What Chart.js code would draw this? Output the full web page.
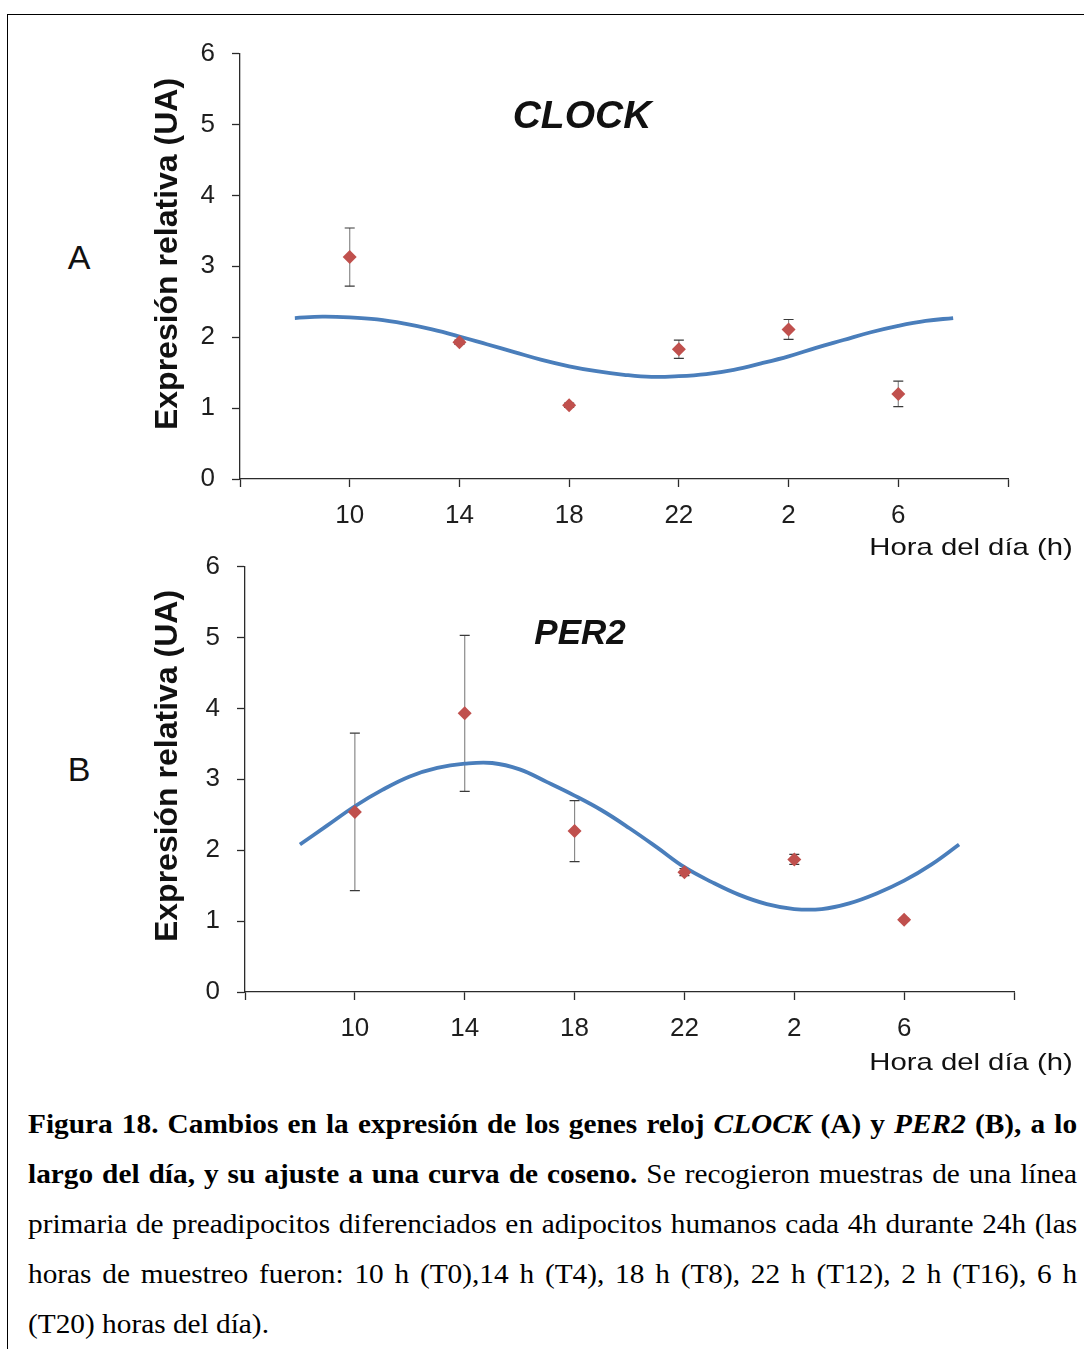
<!DOCTYPE html>
<html lang="es">
<head>
<meta charset="utf-8">
<title>Figura 18</title>
<script src="https://cdn.jsdelivr.net/npm/chart.js@4/dist/chart.umd.min.js"></script>
<style>
    html, body { margin: 0; padding: 0; background: #fff; overflow: hidden; }
    #pagina { position: relative; width: 1084px; height: 1349px; overflow: hidden; font-family: 'Liberation Sans', Arial, sans-serif; color: #111; }
    #marco { position: absolute; left: 7px; top: 14px; width: 1200px; height: 1400px; border-left: 1.5px solid #000; border-top: 1.5px solid #000; }
    canvas { position: absolute; }
    .panel { position: absolute; font-size: 34px; line-height: 34px; transform: translateX(-50%); }
    .gen { position: absolute; font-weight: bold; font-style: italic; white-space: nowrap; transform: translateX(-50%); }
    .eje-y { position: absolute; font-size: 32px; line-height: 36px; font-weight: bold; white-space: nowrap; transform: translate(-50%, -50%) rotate(-90deg); }
    .eje-x { position: absolute; right: 11px; font-size: 24px; line-height: 24px; white-space: nowrap; transform: scaleX(1.22); transform-origin: right center; }
    #pie { position: absolute; left: 28px; top: 1099px; width: 1002px; font-family: 'Liberation Serif', 'Times New Roman', serif; font-size: 28px; line-height: 50px; color: #000; transform: scaleX(1.047); transform-origin: left top; }
    #pie div { white-space: nowrap; text-align: justify; text-align-last: justify; }
    #pie div.ultima { text-align-last: left; }
</style>
</head>
<body>
<div id="pagina">
    <div id="marco"></div>

    <canvas id="graficoClock" width="921" height="518" style="left:100px; top:21px;"></canvas>
    <canvas id="graficoPer2" width="922" height="518" style="left:105px; top:534px;"></canvas>

    <div class="panel" style="left:79px; top:240px;">A</div>
    <div class="panel" style="left:79px; top:752px;">B</div>

    <div class="gen" style="left:582px; top:95px; font-size:39px; line-height:39px;">CLOCK</div>
    <div class="gen" style="left:580px; top:614px; font-size:35px; line-height:35px;">PER2</div>

    <div class="eje-y" style="left:166px; top:254px;">Expresión relativa (UA)</div>
    <div class="eje-y" style="left:166px; top:766px;">Expresión relativa (UA)</div>

    <div class="eje-x" style="top:535px;">Hora del día (h)</div>
    <div class="eje-x" style="top:1050px;">Hora del día (h)</div>

    <div id="pie">
        <div><b>Figura 18. Cambios en la expresión de los genes reloj <i>CLOCK</i> (A) y <i>PER2</i> (B), a lo</b></div>
        <div><b>largo del día, y su ajuste a una curva de coseno.</b> Se recogieron muestras de una línea</div>
        <div>primaria de preadipocitos diferenciados en adipocitos humanos cada 4h durante 24h (las</div>
        <div>horas de muestreo fueron: 10 h (T0),14 h (T4), 18 h (T8), 22 h (T12), 2 h (T16), 6 h</div>
        <div class="ultima">(T20) horas del día).</div>
    </div>
</div>

<script>
// Horas de muestreo (26 = 2 h y 30 = 6 h del día siguiente)
const horasMuestreo = [10, 14, 18, 22, 26, 30]
const etiquetasHora = ['', '10', '14', '18', '22', '2', '6', '']

// CLOCK: medias y error
const clockMedias = [3.13, 1.93, 1.04, 1.83, 2.11, 1.20]
const clockErrores = [0.41, 0.03, 0.03, 0.13, 0.14, 0.18]

// PER2: medias y error
const per2Medias = [2.54, 3.93, 2.27, 1.69, 1.87, 1.02]
const per2Errores = [1.11, 1.10, 0.43, 0.05, 0.07, 0.02]

// Curvas de coseno ajustadas, leídas cada hora
const curvaHoras = [8, 9, 10, 11, 12, 13, 14, 15, 16, 17, 18, 19, 20, 21, 22, 23, 24, 25, 26, 27, 28, 29, 30, 31, 32]
const clockCurva = [2.27, 2.29, 2.28, 2.25, 2.19, 2.11, 2.01, 1.90, 1.79, 1.68, 1.59, 1.52, 1.47, 1.44, 1.45, 1.48, 1.54, 1.63, 1.73, 1.85, 1.96, 2.07, 2.16, 2.23, 2.27]
const per2Curva = [2.08, 2.35, 2.62, 2.85, 3.04, 3.16, 3.22, 3.23, 3.14, 2.96, 2.77, 2.56, 2.31, 2.04, 1.76, 1.55, 1.37, 1.24, 1.17, 1.17, 1.25, 1.39, 1.57, 1.80, 2.08]

const colorEje = '#2b2b2b'

// Plugin para dibujar las barras de error
function barrasError(medias, errores) {
    return {
        id: 'barrasError',
        beforeDatasetsDraw(chart) {
            const { ctx, scales: { x, y } } = chart
            ctx.save()
            ctx.lineWidth = 1.2
            medias.forEach((m, i) => {
                const px = x.getPixelForValue(horasMuestreo[i])
                const arriba = y.getPixelForValue(m + errores[i])
                const abajo = y.getPixelForValue(m - errores[i])
                ctx.strokeStyle = '#8a8a8a'
                ctx.beginPath()
                ctx.moveTo(px, arriba)
                ctx.lineTo(px, abajo)
                ctx.stroke()
                ctx.strokeStyle = '#3a3a3a'
                ctx.beginPath()
                ctx.moveTo(px - 5, arriba)
                ctx.lineTo(px + 5, arriba)
                ctx.moveTo(px - 5, abajo)
                ctx.lineTo(px + 5, abajo)
                ctx.stroke()
            })
            ctx.restore()
        }
    }
}

// Función para crear cada gráfico
function crearGrafico(id, medias, errores, curva) {
    const ctx = document.getElementById(id).getContext('2d')
    return new Chart(ctx, {
        data: {
            datasets: [
                {
                    type: 'scatter',
                    label: 'Media',
                    data: horasMuestreo.map((h, i) => ({ x: h, y: medias[i] })),
                    pointStyle: 'rectRot',
                    pointRadius: 7,
                    pointBackgroundColor: '#C0504D',
                    pointBorderWidth: 0
                },
                {
                    type: 'line',
                    label: 'Coseno',
                    data: curvaHoras.map((h, i) => ({ x: h, y: curva[i] })),
                    borderColor: '#4A7EBB',
                    borderWidth: 3.8,
                    pointRadius: 0,
                    tension: 0.4,
                    fill: false
                }
            ]
        },
        options: {
            responsive: false,
            animation: false,
            layout: { padding: { top: 23, right: 0, bottom: 0, left: 0 } },
            plugins: {
                legend: { display: false },
                tooltip: { enabled: false }
            },
            scales: {
                x: {
                    type: 'linear',
                    min: 6,
                    max: 34,
                    afterFit: (s) => { s.height = 60 },
                    border: { color: colorEje, width: 1.3 },
                    grid: { drawOnChartArea: false, tickLength: 8, color: colorEje, tickColor: colorEje, tickWidth: 1.3 },
                    ticks: {
                        stepSize: 4,
                        padding: 13,
                        autoSkip: false,
                        maxRotation: 0,
                        color: '#1e1e1e',
                        font: { family: "'Liberation Sans', Arial, sans-serif", size: 26 },
                        callback: (v) => etiquetasHora[(v - 6) / 4]
                    }
                },
                y: {
                    min: 0,
                    max: 6,
                    afterFit: (s) => { s.width = 140 },
                    border: { color: colorEje, width: 1.3 },
                    grid: { drawOnChartArea: false, tickLength: 8, color: colorEje, tickColor: colorEje, tickWidth: 1.3 },
                    ticks: {
                        stepSize: 1,
                        padding: 17,
                        color: '#1e1e1e',
                        font: { family: "'Liberation Sans', Arial, sans-serif", size: 26 }
                    }
                }
            }
        },
        plugins: [barrasError(medias, errores)]
    })
}

crearGrafico('graficoClock', clockMedias, clockErrores, clockCurva)
crearGrafico('graficoPer2', per2Medias, per2Errores, per2Curva)
</script>
</body>
</html>
